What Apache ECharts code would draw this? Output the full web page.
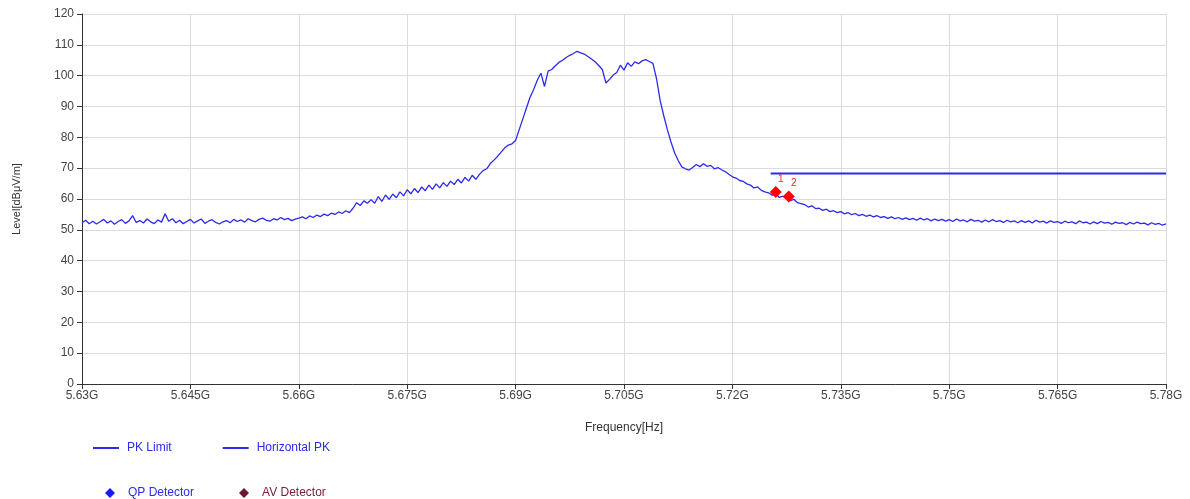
<!DOCTYPE html>
<html>
<head>
<meta charset="utf-8">
<script src="https://cdn.jsdelivr.net/npm/echarts@6/dist/echarts.min.js"></script>
<style>
html,body{margin:0;padding:0;background:#fff;}
#chart{width:1190px;height:499px;}
</style>
</head>
<body>
<div id="chart"></div>
<script>
// Frequency axis in MHz offset from 5630 MHz (5.63 GHz)
const freqBaseMHz = 5630;
const traceStartOffset = 0;   // MHz offset of first trace point
const traceStepMHz = 0.5;     // spacing of trace points
const xTickLabels = ['5.63G','5.645G','5.66G','5.675G','5.69G','5.705G','5.72G','5.735G','5.75G','5.765G','5.78G'];

// Horizontal PK trace levels (dBµV/m)
const horizontalPK = [
52.3,53.1,52.0,52.8,51.9,52.6,53.4,52.2,52.9,51.8,
52.7,53.3,52.1,52.9,54.6,52.4,53.0,52.2,53.5,52.6,
52.0,53.2,52.5,55.2,52.8,53.6,52.3,53.1,52.0,52.7,
53.4,52.2,52.9,53.5,52.1,52.8,53.3,52.4,51.9,52.6,
53.0,52.3,53.4,52.7,53.2,52.5,53.6,53.0,52.6,53.4,
53.8,53.1,52.8,53.6,53.2,54.0,53.3,53.7,53.0,53.5,
53.8,54.2,53.6,54.5,54.0,54.8,54.3,55.1,54.6,55.4,
55.0,55.8,55.3,56.2,55.6,57.0,58.8,57.9,59.4,58.6,
59.8,58.6,60.8,59.2,61.3,59.9,61.6,60.4,62.3,61.0,
63.0,61.7,63.4,62.1,63.9,62.7,64.5,63.1,64.9,63.6,
65.3,64.1,65.8,64.7,66.4,65.2,67.0,65.8,67.7,66.4,
68.0,69.2,69.8,71.5,72.6,73.8,75.2,76.6,77.5,77.9,
79.0,82.5,86.0,89.5,93.0,95.5,98.5,100.8,96.5,101.5,
102.0,103.2,104.3,105.0,105.9,106.6,107.2,107.9,107.4,107.0,
106.2,105.4,104.5,103.3,102.0,97.6,98.8,100.2,101.0,103.4,
101.8,104.2,103.0,104.5,103.9,104.8,105.2,104.6,104.0,99.0,
92.0,87.0,82.5,78.5,75.0,72.5,70.4,69.8,69.4,70.2,
71.2,70.5,71.4,70.6,70.9,69.8,70.2,69.5,68.9,68.0,
67.2,66.8,66.0,65.7,64.9,64.5,63.6,63.9,62.8,62.3,
62.0,61.2,61.6,60.5,60.9,60.1,59.5,59.9,58.8,58.5,
58.2,57.4,57.8,56.9,57.0,56.3,56.7,55.9,56.2,55.6,
55.9,55.2,55.6,54.9,55.3,54.6,55.0,54.4,54.8,54.2,
54.6,54.0,54.3,53.7,54.2,53.6,54.0,53.4,53.9,53.3,
53.7,53.1,53.8,53.2,53.6,52.9,53.5,53.0,53.4,52.8,
53.3,52.7,53.5,52.9,53.2,52.6,53.4,52.8,53.1,52.5,
53.2,52.6,53.3,52.7,53.0,52.4,53.1,52.6,52.9,52.3,
53.0,52.4,52.9,52.2,53.1,52.5,52.8,52.2,52.9,52.4,
52.7,52.1,52.8,52.3,52.6,52.0,52.9,52.3,52.5,51.9,
52.6,52.0,52.7,52.2,52.4,51.8,52.5,52.1,52.3,51.7,
52.4,51.9,52.5,52.0,52.2,51.6,52.3,51.8,52.1,51.5,
51.9
];

// PK Limit line (MHz offsets, level)
const limitFreqs = [95.3, 150];
const limitLevels = [68.3, 68.3];

// Detector markers
const markerNames = ['1', '2'];
const markerFreqs = [96.0, 97.8];
const markerLevels = [62.3, 60.8];

const traceData = horizontalPK.map((v, i) => [traceStartOffset + i * traceStepMHz, v]);
const limitData = limitFreqs.map((f, i) => [f, limitLevels[i]]);
const markerData = markerFreqs.map((f, i) => ({ value: [f, markerLevels[i]], name: markerNames[i] }));

const blue = '#2b2bee';
const lineIcon = 'path://M0,0L26,0L26,2L0,2Z';
const chart = echarts.init(document.getElementById('chart'));
chart.setOption({
  animation: false,
  backgroundColor: '#fff',
  textStyle: { fontFamily: 'Liberation Sans, Arial, sans-serif' },
  grid: { left: 82, right: 24, top: 14, bottom: 115 },
  xAxis: {
    type: 'value', min: 0, max: 150, interval: 15,
    name: 'Frequency[Hz]', nameLocation: 'middle', nameGap: 38,
    nameTextStyle: { color: '#333', fontSize: 12 },
    axisLine: { show: true, lineStyle: { color: '#333', width: 1 } },
    axisTick: { show: true, inside: false, length: 5, lineStyle: { color: '#333' } },
    axisLabel: { color: '#444', fontSize: 12, margin: 6,
      formatter: v => xTickLabels[Math.round(v / 15)] },
    splitLine: { show: true, lineStyle: { color: '#dcdcdc', width: 1 } }
  },
  yAxis: {
    type: 'value', min: 0, max: 120, interval: 10,
    name: 'Level[dBμV/m]', nameLocation: 'middle', nameGap: 60, nameRotate: 90,
    nameTextStyle: { color: '#333', fontSize: 11 },
    axisLine: { show: true, lineStyle: { color: '#333', width: 1 } },
    axisTick: { show: true, inside: false, length: 5, lineStyle: { color: '#333' } },
    axisLabel: { color: '#444', fontSize: 12, margin: 8 },
    splitLine: { show: true, lineStyle: { color: '#dcdcdc', width: 1 } }
  },
  legend: [
    {
      left: 88, top: 437, itemGap: 51, itemWidth: 26, itemHeight: 2,
      textStyle: { color: blue, fontSize: 12, padding: [0, 0, 0, 3] },
      data: [
        { name: 'PK Limit', icon: lineIcon },
        { name: 'Horizontal PK', icon: lineIcon }
      ]
    },
    {
      left: 100, top: 482, itemGap: 45, itemWidth: 10, itemHeight: 10,
      textStyle: { fontSize: 12, padding: [0, 0, 0, 8] },
      data: [
        { name: 'QP Detector', icon: 'diamond', textStyle: { color: blue } },
        { name: 'AV Detector', icon: 'diamond', textStyle: { color: '#7a2040' } }
      ]
    }
  ],
  series: [
    {
      name: 'PK Limit', type: 'line', data: limitData, symbol: 'none',
      lineStyle: { color: blue, width: 2 }, itemStyle: { color: blue }, z: 3
    },
    {
      name: 'Horizontal PK', type: 'line', data: traceData, symbol: 'none',
      lineStyle: { color: blue, width: 1.3 }, itemStyle: { color: blue }, z: 2
    },
    {
      name: 'QP Detector', type: 'scatter', data: [], symbol: 'diamond',
      itemStyle: { color: '#1a1aff', opacity: 1 }
    },
    {
      name: 'AV Detector', type: 'scatter', data: [], symbol: 'diamond',
      itemStyle: { color: '#6b1838', opacity: 1 }
    },
    {
      name: 'Markers', type: 'scatter', data: markerData, symbol: 'diamond', symbolSize: 12,
      itemStyle: { color: '#ff0000', opacity: 1 }, z: 5,
      label: { show: true, formatter: p => p.name, position: 'top', offset: [5, 3],
        color: '#ff2020', fontSize: 10 }
    }
  ]
});
</script>
</body>
</html>
